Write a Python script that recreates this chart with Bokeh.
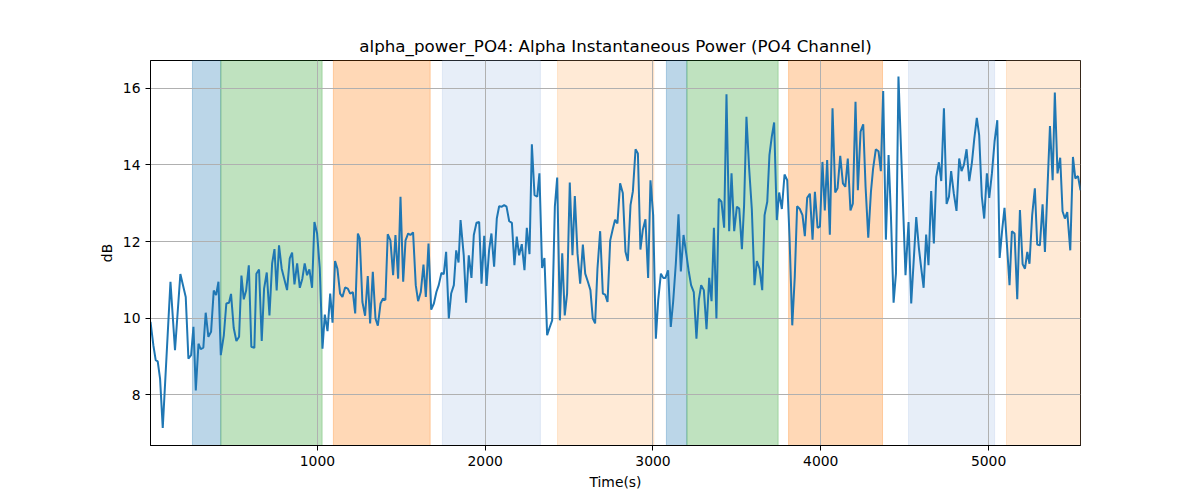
# Alpha power PO4 channel, recreated with bokeh
from bokeh.plotting import figure
from bokeh.models import BoxAnnotation, Range1d, FixedTicker
from bokeh.embed import file_html
from bokeh.resources import INLINE

########################################################################################################################
# Data

time_s = [
    5, 22, 36, 48, 62, 78, 124, 151, 183, 215, 231, 247, 261, 275, 291, 304, 320, 334, 350, 366,
    382, 396, 410, 424, 442, 457, 473, 485, 501, 517, 533, 547, 561, 575, 591, 606, 624, 636, 652, 668,
    682, 698, 714, 730, 744, 757, 771, 787, 819, 835, 849, 863, 879, 895, 910, 924,
    938, 952, 968, 982, 998, 1014, 1030, 1044, 1060, 1076, 1090, 1105, 1119, 1135, 1149, 1165, 1181, 1195,
    1211, 1225, 1241, 1252, 1268, 1284, 1300, 1314, 1330, 1346, 1360, 1376, 1391, 1405, 1419, 1435, 1451,
    1465, 1481, 1495, 1511, 1525, 1541, 1554, 1570, 1586, 1600, 1616, 1632, 1646, 1662, 1678, 1694, 1709,
    1723, 1739, 1753, 1767, 1783, 1797, 1813, 1827, 1841, 1853,
    1872, 1886, 1902, 1918, 1932, 1948, 1964, 1978, 1994, 2008, 2023, 2037, 2053, 2069, 2083, 2099, 2113,
    2127, 2143, 2159, 2174, 2188, 2202, 2218, 2234, 2248, 2264, 2278, 2294, 2310, 2323, 2339, 2353, 2369,
    2383, 2399, 2415, 2429, 2445, 2459, 2474, 2488, 2504, 2520, 2534, 2550, 2566, 2582, 2596, 2612, 2627,
    2641, 2655, 2669, 2685, 2701, 2715, 2729, 2745,
    2761, 2774, 2788, 2804, 2820, 2836, 2850, 2866, 2880, 2896, 2910, 2925, 2939, 2955, 2971, 2985, 3001,
    3017, 3031, 3047, 3061, 3074, 3090, 3106, 3120, 3136, 3152, 3166, 3182, 3198, 3212, 3227, 3243, 3259,
    3273, 3287, 3303, 3319, 3335, 3349, 3363, 3378, 3392, 3408, 3424, 3438, 3454, 3468, 3484, 3500, 3514,
    3530, 3543, 3557, 3573, 3589, 3605, 3619,
    3635, 3651, 3665, 3681, 3694, 3708, 3722, 3738, 3752, 3768, 3784, 3800, 3814, 3830, 3845, 3859, 3875,
    3891, 3905, 3919, 3935, 3951, 3965, 3981, 3995, 4010, 4024, 4038, 4054, 4070, 4086, 4100, 4116, 4132,
    4146, 4161, 4177, 4191, 4207, 4221, 4237, 4253, 4267, 4283, 4299, 4312, 4328, 4344, 4358, 4372, 4388,
    4404, 4418, 4434, 4448, 4463,
    4505, 4523, 4539, 4569, 4585, 4599, 4613, 4628, 4642, 4658, 4674, 4688, 4704, 4718, 4734, 4750, 4764,
    4777, 4793, 4809, 4825, 4839, 4853, 4869, 4885, 4901, 4915, 4930, 4944, 4960, 4974, 4990, 5004, 5020,
    5036, 5052, 5066, 5082, 5095, 5111, 5125, 5139, 5155, 5171, 5187, 5203, 5217, 5231, 5244, 5260, 5276,
    5290, 5306, 5322, 5336, 5366, 5382, 5395, 5411, 5427, 5441, 5455, 5469, 5487, 5503, 5517, 5533, 5548,
]

alpha_db = [
    9.90, 9.29, 8.90, 8.87, 8.42, 7.13, 10.95, 9.16, 11.15, 10.55, 8.94, 9.03, 9.77, 8.11, 9.33, 9.19, 9.23, 10.14, 9.51, 9.64,
    10.72, 10.60, 10.95, 9.03, 9.55, 10.38, 10.40, 10.63, 9.74, 9.40, 9.51, 11.11, 10.49, 10.72, 11.38, 9.25, 9.22, 11.16, 11.27, 9.40,
    10.77, 11.19, 10.07, 11.43, 11.80, 10.72, 11.90, 11.29, 10.73, 11.56, 11.71, 10.88, 11.43, 10.79, 11.03, 11.43,
    11.12, 11.27, 10.79, 12.51, 12.21, 11.29, 9.20, 10.09, 9.66, 10.64, 9.88, 11.49, 11.29, 10.64, 10.55, 10.80, 10.77, 10.64,
    10.68, 10.12, 12.21, 12.08, 10.42, 10.06, 11.10, 9.86, 11.21, 9.99, 9.80, 10.38, 10.51, 10.47, 12.19, 12.03, 11.12,
    12.17, 11.03, 13.17, 10.95, 12.03, 12.21, 12.17, 12.24, 10.86, 10.44, 10.68, 11.40, 10.55, 11.95, 10.22, 10.38, 10.68,
    10.86, 11.18, 11.15, 11.73, 9.99, 10.64, 10.86, 11.77, 11.45, 12.56,
    11.64, 10.40, 11.64, 11.05, 12.17, 12.49, 12.51, 10.90, 12.15, 10.84, 11.77, 12.21, 11.34, 12.60, 12.92, 12.91, 12.95,
    12.91, 12.53, 12.49, 11.38, 12.13, 11.64, 11.93, 11.25, 12.36, 11.67, 14.54, 13.21, 13.17, 13.78, 11.31, 11.57, 9.55,
    9.74, 9.94, 12.91, 13.67, 9.94, 11.69, 10.07, 10.64, 13.54, 11.64, 13.19, 11.69, 10.90, 11.92, 11.16, 10.95, 10.73,
    9.99, 9.86, 11.29, 12.27, 10.64, 10.61, 10.42, 12.03,
    12.34, 12.57, 12.47, 13.52, 13.27, 11.73, 11.49, 12.95, 13.31, 14.41, 14.30, 11.79, 12.30, 12.58, 11.05, 13.60, 12.69,
    9.46, 10.47, 11.16, 11.05, 11.05, 11.25, 9.77, 10.42, 11.42, 12.71, 11.22, 12.17, 11.69, 11.25, 10.86, 10.68, 9.46,
    10.47, 10.86, 10.73, 9.71, 11.05, 10.44, 12.36, 9.99, 13.12, 13.04, 12.36, 15.85, 12.27, 13.78, 12.27, 12.91, 12.86,
    11.80, 12.95, 15.26, 13.91, 12.85, 10.86, 11.49,
    11.29, 10.73, 12.69, 13.04, 14.26, 14.74, 15.11, 12.56, 13.28, 12.85, 13.75, 13.60, 12.08, 9.81, 11.08, 12.92, 12.85,
    12.69, 12.14, 13.14, 13.25, 12.05, 13.30, 12.36, 12.39, 14.08, 12.81, 14.13, 12.18, 15.48, 13.28, 13.39, 14.24, 13.52,
    13.43, 14.17, 12.81, 12.99, 15.65, 13.34, 14.87, 15.06, 13.43, 12.10, 13.30, 13.91, 14.41, 14.36, 13.84, 15.93, 12.05,
    14.26, 12.69, 10.40, 11.16, 16.31,
    11.12, 12.51, 10.38, 12.64, 11.82, 11.29, 10.79, 12.18, 11.38, 13.32, 11.95, 13.69, 14.07, 13.58, 15.48, 12.98, 13.17,
    13.84, 13.25, 12.80, 14.17, 13.84, 14.00, 14.41, 13.58, 14.07, 14.69, 15.23, 14.78, 13.17, 12.60, 13.78, 13.14, 13.78,
    14.62, 15.17, 11.57, 12.34, 12.88, 11.82, 10.86, 12.27, 12.21, 10.49, 12.82, 11.41, 11.29, 11.73, 11.42, 12.69, 13.39,
    11.92, 11.90, 12.97, 11.73, 15.02, 13.60, 15.89, 13.78, 14.19, 12.79, 12.60, 12.77, 11.77, 14.21, 13.65, 13.71, 13.34,
]

# shaded stimulus periods
span_start = [255, 424, 1095, 1745, 2431, 3080, 3202, 3808, 4523, 5107]
span_end = [424, 1028, 1672, 2329, 3005, 3202, 3746, 4368, 5036, 5548]
span_color = ["#1f77b4", "#2ca02c", "#ff7f0e", "#aec7e8", "#ffbb78",
              "#1f77b4", "#2ca02c", "#ff7f0e", "#aec7e8", "#ffbb78"]

x_ticks = [1000, 2000, 3000, 4000, 5000]
y_ticks = [8, 10, 12, 14, 16]

########################################################################################################################
# Plot

p = figure(title="alpha_power_PO4: Alpha Instantaneous Power (PO4 Channel)",
           x_axis_label="Time(s)",
           y_axis_label="dB",
           width=1200, height=500,
           min_border_left=150, min_border_right=120,
           min_border_top=60, min_border_bottom=55,
           x_range=Range1d(time_s[0], time_s[-1]),
           y_range=Range1d(6.67, 16.73),
           output_backend="svg",
           toolbar_location=None)

# spans go under the grid, like matplotlib's axvspan
span_boxes = [BoxAnnotation(left=start, right=end, fill_color=color, fill_alpha=0.3,
                            line_color=color, line_alpha=0.3, line_width=1, level="underlay")
              for start, end, color in zip(span_start, span_end, span_color)]
p.center = span_boxes + list(p.center)

p.line(time_s, alpha_db, color="#1f77b4", line_width=2)

# matplotlib-ish styling
p.title.align = "center"
p.title.text_font = "DejaVu Sans"
p.title.text_font_size = "16.7px"
p.title.text_font_style = "normal"
p.title.text_color = "black"

p.xaxis.ticker = FixedTicker(ticks=x_ticks)
p.yaxis.ticker = FixedTicker(ticks=y_ticks)

for ax in (p.xaxis, p.yaxis):
    ax.axis_label_text_font = "DejaVu Sans"
    ax.axis_label_text_font_size = "13.9px"
    ax.axis_label_text_font_style = "normal"
    ax.axis_label_text_color = "black"
    ax.major_label_text_font = "DejaVu Sans"
    ax.major_label_text_font_size = "13.9px"
    ax.major_label_text_color = "black"
    ax.axis_line_color = "black"
    ax.major_tick_line_color = "black"
    ax.major_tick_out = 5
    ax.major_tick_in = 0
    ax.minor_tick_line_color = None

p.grid.grid_line_color = "#b0b0b0"
p.grid.grid_line_width = 1
p.outline_line_color = "black"
p.outline_line_alpha = 1
p.background_fill_color = "white"
p.border_fill_color = "white"

open("out.html", "w").write(file_html(p, INLINE))
